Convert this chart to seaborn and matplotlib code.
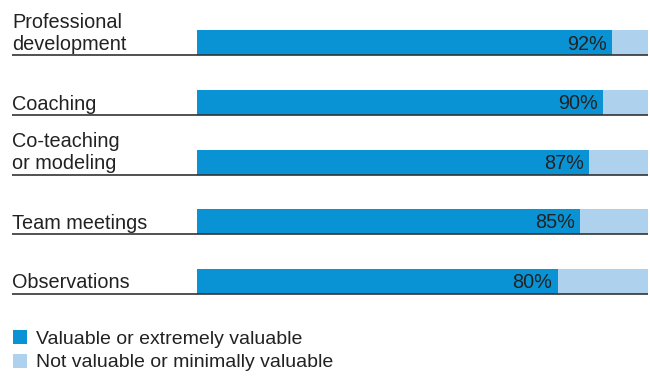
import numpy as np, pandas as pd
import matplotlib
matplotlib.use("Agg")
import matplotlib.pyplot as plt
import matplotlib.transforms as mtransforms
from matplotlib.patches import Patch
import seaborn as sns

sns.set_theme(style="white")
plt.rcParams['font.family'] = ['Liberation Sans', 'DejaVu Sans']

categories = ["Professional\ndevelopment", "Coaching", "Co-teaching\nor modeling",
              "Team meetings", "Observations"]
valuable = [92, 90, 87, 85, 80]
legend_labels = ["Valuable or extremely valuable", "Not valuable or minimally valuable"]

dark = "#0a93d4"
light = "#aed1ee"

df = pd.DataFrame({"cat": categories, "valuable": valuable, "total": [100] * len(categories)})

fig = plt.figure(figsize=(6.5, 3.76), dpi=100)
ax = fig.add_axes([197 / 650, 65 / 376, 451 / 650, 311 / 376])

sns.barplot(data=df, y="cat", x="total", color=light, width=0.42, saturation=1,
            linewidth=0, ax=ax, orient="h")
sns.barplot(data=df, y="cat", x="valuable", color=dark, width=0.42, saturation=1,
            linewidth=0, ax=ax, orient="h")

ax.set_xlim(0, 100)
ax.set_ylim(4.5, -0.72)
ax.axis("off")

fs = 14.3
trans = mtransforms.blended_transform_factory(fig.transFigure, ax.transData)
for i, (c, v) in enumerate(zip(categories, valuable)):
    ax.text(12 / 650, i + 0.12, c, transform=trans, ha="left", va="baseline",
            fontsize=fs, color="#222222", linespacing=1.2)
    ax.plot([12 / 650, 648 / 650], [i + 0.21, i + 0.21], transform=trans,
            color="#333333", lw=1.2, clip_on=False, solid_capstyle="butt")
    ax.text(v - 1.2, i + 0.02, f"{v}%", ha="right", va="center",
            fontsize=fs, color="#222222")

handles = [Patch(facecolor=dark, edgecolor="none"), Patch(facecolor=light, edgecolor="none")]
fig.legend(handles, legend_labels, loc="upper left", bbox_to_anchor=(5 / 650, 1 - 322 / 376),
           frameon=False, fontsize=14, handlelength=0.75, handleheight=0.75,
           handletextpad=0.45, labelspacing=0.3, borderaxespad=0, labelcolor="#222222")

fig.savefig("out.png", dpi=100)
